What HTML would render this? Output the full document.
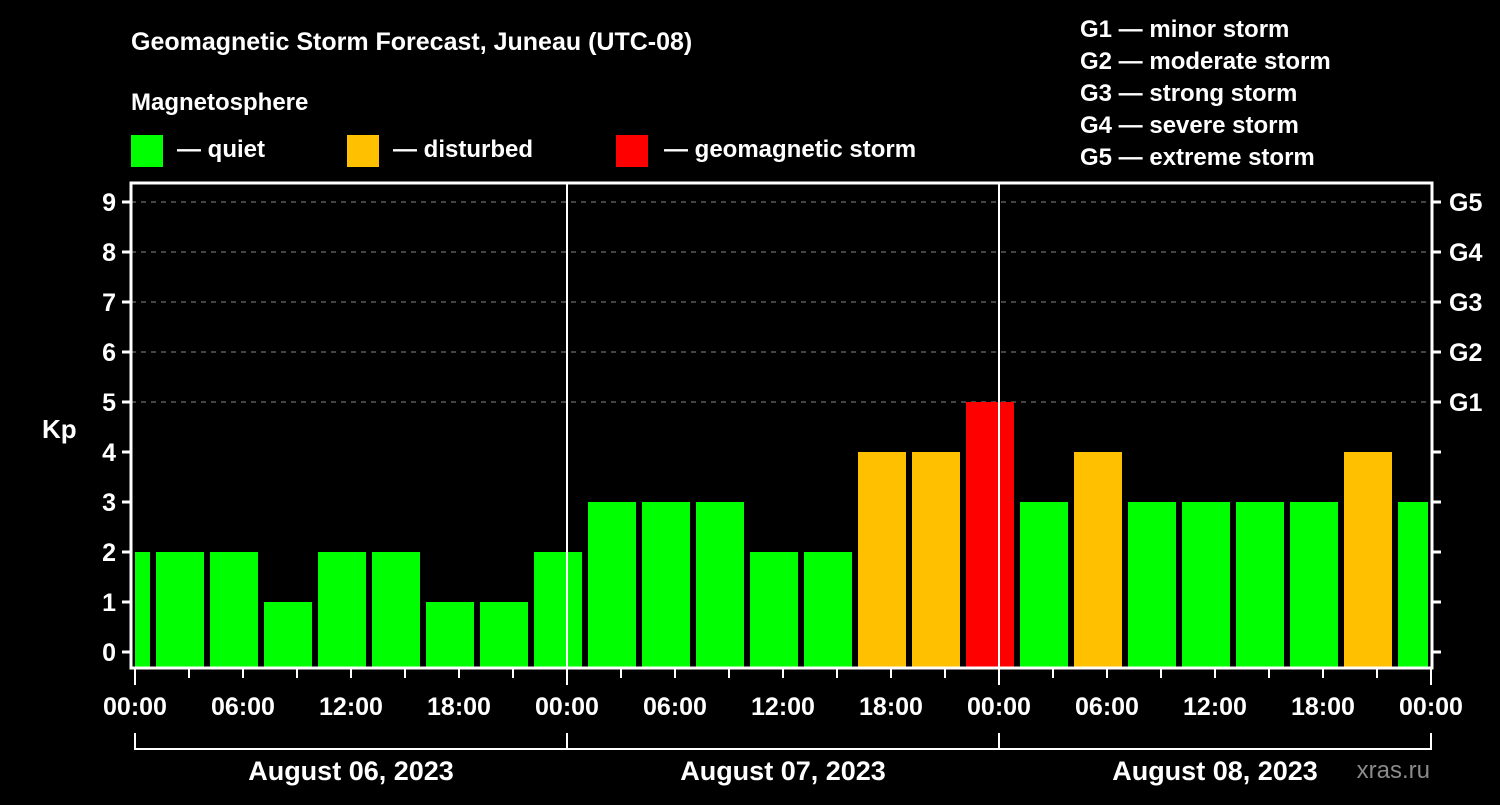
<!DOCTYPE html>
<html><head><meta charset="utf-8"><style>
body{margin:0;background:#000;width:1500px;height:800px;overflow:hidden}
svg text{font-family:"Liberation Sans",Arial,sans-serif;font-weight:bold;fill:#fff}
</style></head><body>
<svg id="c" width="1500" height="800">
<text x="131" y="50" font-size="25">Geomagnetic Storm Forecast, Juneau (UTC-08)</text>
<text x="131" y="110" font-size="24">Magnetosphere</text>
<g><rect x="131" y="135" width="32" height="32" fill="#00ff00"/><text x="177" y="157" font-size="24">— quiet</text></g>
<g><rect x="347" y="135" width="32" height="32" fill="#ffc000"/><text x="393" y="157" font-size="24">— disturbed</text></g>
<g><rect x="616" y="135" width="32" height="32" fill="#ff0000"/><text x="664" y="157" font-size="24">— geomagnetic storm</text></g>
<g font-size="24">
<text x="1080" y="37">G1 — minor storm</text><text x="1080" y="69">G2 — moderate storm</text><text x="1080" y="101">G3 — strong storm</text><text x="1080" y="133">G4 — severe storm</text><text x="1080" y="165">G5 — extreme storm</text></g>
<text x="42" y="438" font-size="26">Kp</text>
<text x="1430" y="778" font-size="24" fill="#888" style="fill:#8a8a8a;font-weight:normal" text-anchor="end">xras.ru</text>
<g id="plot"></g>
</svg>
<script>
const kpValues=[2,2,2,1,2,2,1,1,2,3,3,3,2,2,4,4,5,3,4,3,3,3,3,4,3];
const dayLabels=["August 06, 2023","August 07, 2023","August 08, 2023"];
const timeLabels=["00:00","06:00","12:00","18:00"];
const gLabels=["G1","G2","G3","G4","G5"];
const NS="http://www.w3.org/2000/svg";
const L=131,R=1432,T=183,B=668,X0=135,PXH=18;
const xh=h=>X0+h*PXH;
const y=v=>652-v*50;
const g=document.getElementById('plot');
function mk(t,a,p){const e=document.createElementNS(NS,t);for(const k in a)e.setAttribute(k,a[k]);(p||g).appendChild(e);return e;}
// grid
for(let v=5;v<=9;v++){const l=mk('line',{x1:L,x2:R,y1:y(v),y2:y(v),stroke:'#888','stroke-dasharray':'5,5'});

}
// bars
kpValues.forEach((v,k)=>{const c=xh(3*k-0.5);let x1=Math.max(c-24,L+4),x2=Math.min(c+24,R-4);
const col=v>=5?'#ff0000':v>=4?'#ffc000':'#00ff00';
const r=mk('rect',{x:x1,y:y(v),width:x2-x1,height:B-y(v),fill:col});

});
// day separators
for(let d=1;d<3;d++){const l=mk('line',{x1:xh(24*d),x2:xh(24*d),y1:T,y2:B,stroke:'#fff','stroke-width':2});

}
// frame
const f=mk('rect',{x:L,y:T,width:R-L,height:B-T,fill:'none',stroke:'#fff','stroke-width':3});


// y ticks
for(let v=0;v<=9;v++){mk('line',{x1:122,x2:L,y1:y(v),y2:y(v),stroke:'#fff','stroke-width':3});
mk('line',{x1:R,x2:1441,y1:y(v),y2:y(v),stroke:'#fff','stroke-width':3});
const t=mk('text',{x:116,y:y(v)+9,'font-size':25,'text-anchor':'end'});t.textContent=v;

}
gLabels.forEach((s,i)=>{const t=mk('text',{x:1449,y:y(5+i)+9,'font-size':25});t.textContent=s;

});
// x ticks
for(let h=0;h<=72;h+=3){const big=h%24==0;mk('line',{x1:xh(h),x2:xh(h),y1:B,y2:big?685:678,stroke:'#fff','stroke-width':2});
if(h%6==0){const t=mk('text',{x:xh(h),y:715,'font-size':25,'text-anchor':'middle'});t.textContent=timeLabels[(h%24)/6];

}}
// day brackets
mk('line',{x1:xh(0),x2:xh(72),y1:749,y2:749,stroke:'#fff','stroke-width':2});
for(let d=0;d<=3;d++)mk('line',{x1:xh(24*d),x2:xh(24*d),y1:733,y2:750,stroke:'#fff','stroke-width':2});
dayLabels.forEach((s,i)=>{const t=mk('text',{x:xh(24*i+12),y:780,'font-size':27,'text-anchor':'middle'});t.textContent=s;

});
</script>
</body></html>
